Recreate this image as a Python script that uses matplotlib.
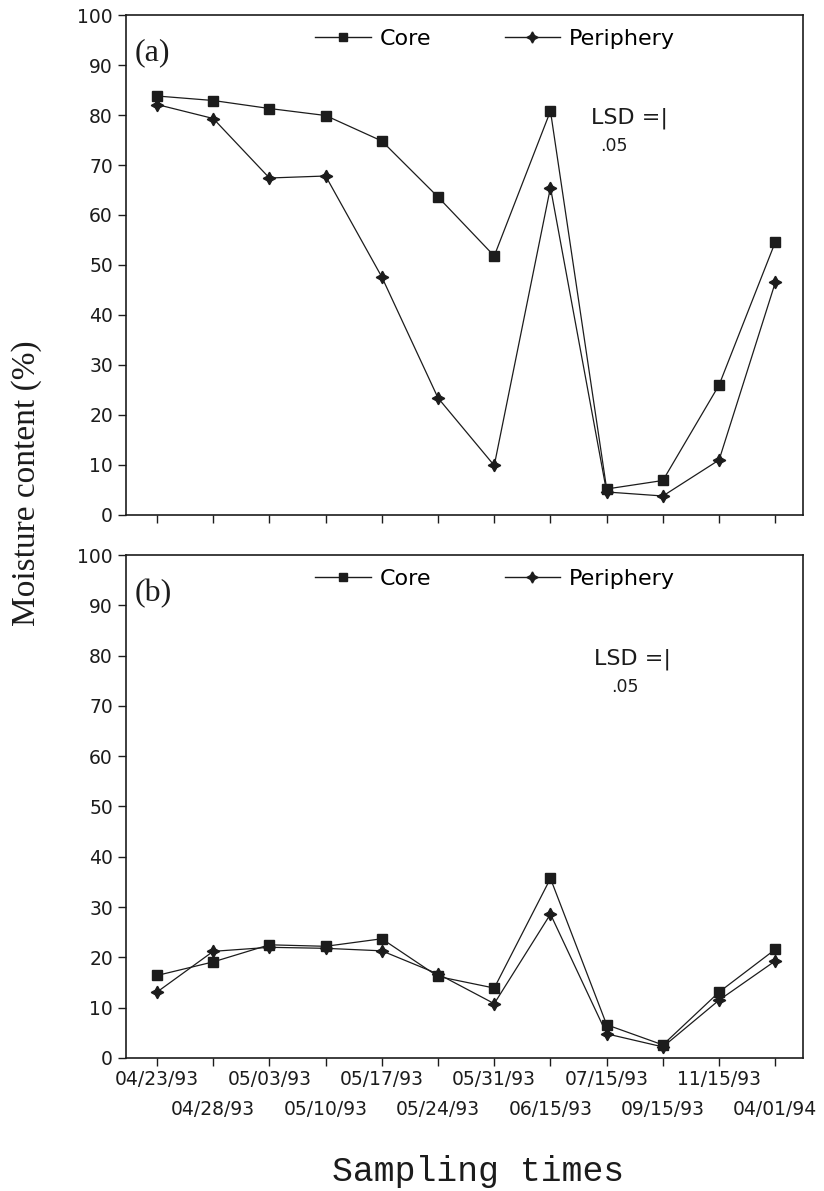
import matplotlib.pyplot as plt
from matplotlib.lines import Line2D

dates = ['04/23/93', '04/28/93', '05/03/93', '05/10/93', '05/17/93', '05/24/93',
         '05/31/93', '06/15/93', '07/15/93', '09/15/93', '11/15/93', '04/01/94']

# panel (a)
core_a = [83.8, 82.9, 81.3, 79.9, 74.8, 63.6, 51.8, 80.8, 5.2, 6.9, 26.0, 54.6]
peri_a = [82.1, 79.3, 67.4, 67.8, 47.6, 23.4, 9.9, 65.5, 4.6, 3.8, 11.0, 46.5]

# panel (b)
core_b = [16.4, 19.1, 22.5, 22.2, 23.7, 16.2, 13.9, 35.7, 6.6, 2.6, 13.1, 21.6]
peri_b = [13.1, 21.2, 22.0, 21.8, 21.3, 16.7, 10.8, 28.6, 4.8, 2.2, 11.5, 19.3]

ink = '#1c1c1c'
sans = 'DejaVu Sans'
star = (4, 1, 0)

fig = plt.figure(figsize=(8.24, 11.91), dpi=100)
ax_a = fig.add_axes([0.153, 0.5676, 0.822, 0.4198])
ax_b = fig.add_axes([0.153, 0.1117, 0.822, 0.4223])

x = list(range(len(dates)))

for ax, core, peri, tag, lsd_xy, sub_xy in [
        (ax_a, core_a, peri_a, '(a)', (0.687, 0.794), (0.700, 0.738)),
        (ax_b, core_b, peri_b, '(b)', (0.691, 0.792), (0.716, 0.738))]:
    ax.plot(x, core, color=ink, lw=0.9, marker='s', ms=6.5, mfc=ink, mec=ink)
    ax.plot(x, peri, color=ink, lw=0.9, marker=star, ms=9, mfc=ink, mec=ink, mew=1.0)

    ax.set_xlim(-0.55, 11.5)
    ax.set_ylim(0, 100)
    ax.set_yticks(range(0, 101, 10))
    ax.set_xticks(x)
    ax.tick_params(axis='both', direction='out', length=6, width=1.0, color=ink,
                   labelsize=13.5, labelcolor=ink)
    for lab in ax.get_yticklabels():
        lab.set_family(sans)
    for sp in ax.spines.values():
        sp.set_linewidth(1.2)
        sp.set_color(ink)

    ax.text(0.012, 0.924, tag, transform=ax.transAxes, ha='left', va='center',
            family='Liberation Serif', fontsize=23, color=ink)
    ax.text(lsd_xy[0], lsd_xy[1], 'LSD =|', transform=ax.transAxes, ha='left',
            va='center', family=sans, fontsize=16, color=ink)
    ax.text(sub_xy[0], sub_xy[1], '.05', transform=ax.transAxes, ha='left',
            va='center', family=sans, fontsize=12.5, color=ink)

    handles = [Line2D([], [], color=ink, lw=1.0, marker='s', ms=6, mfc=ink, mec=ink),
               Line2D([], [], color=ink, lw=1.0, marker=star, ms=8, mfc=ink, mec=ink)]
    ax.legend(handles, ['Core', 'Periphery'], loc='center', bbox_to_anchor=(0.545, 0.952),
              ncol=2, frameon=False, handlelength=2.5, columnspacing=3.3,
              handletextpad=0.4, prop={'family': sans, 'size': 16})

ax_a.set_xticklabels([])

# alternate the date labels between two rows
ax_b.set_xticklabels(dates, family=sans, fontsize=13.5)
for i, tick in enumerate(ax_b.xaxis.get_major_ticks()):
    tick.set_pad(3 if i % 2 == 0 else 24.5)

fig.text(0.032, 0.594, 'Moisture content (%)', rotation=90, ha='center', va='center',
         family='Liberation Serif', fontsize=24, color=ink)
fig.text(0.58, 0.016, 'Sampling times', ha='center', va='center',
         family='Liberation Mono', fontsize=25, color=ink)

fig.savefig('out.png', dpi=100)
